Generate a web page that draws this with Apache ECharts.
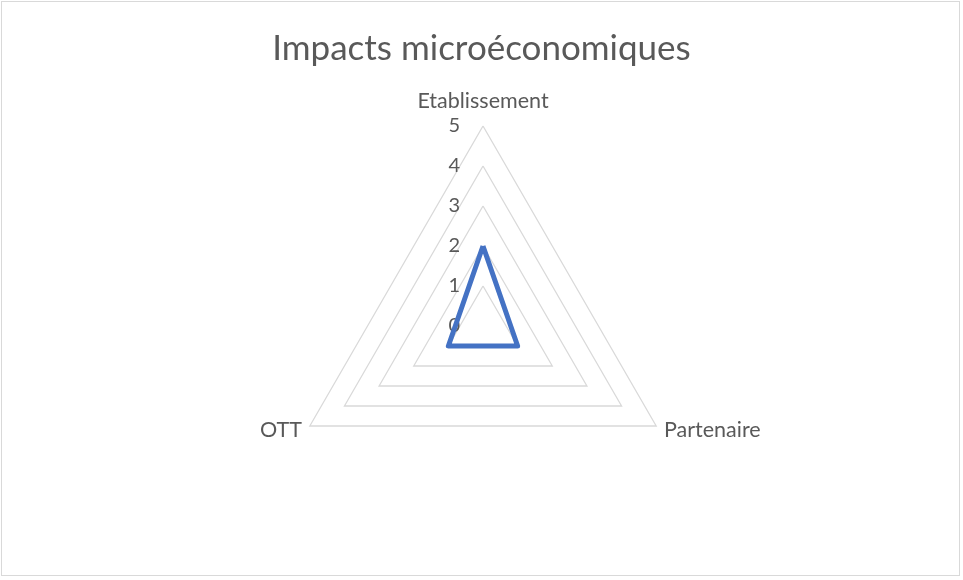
<!DOCTYPE html>
<html><head><meta charset="utf-8">
<script src="https://cdn.jsdelivr.net/npm/echarts@6/dist/echarts.min.js"></script>
<style>
html,body{margin:0;padding:0;background:#fff;}
#c{position:absolute;left:0;top:0;width:963px;height:580px;}
#b{position:absolute;left:1px;top:1px;width:959px;height:575px;border:1px solid #d9d9d9;box-sizing:border-box;pointer-events:none;}
</style></head>
<body><div id="c"></div><div id="b"></div>
<script>
const titleText = "Impacts microéconomiques";
const categories = ["Etablissement", "Partenaire", "OTT"];
const values = [2, 1, 1];
const axisMax = 5;
const tickInterval = 1;

// ECharts radar runs counter-clockwise; reorder so the categories run clockwise
const order = [0, 2, 1];

const chart = echarts.init(document.getElementById('c'));
const font = 'Lato, "Open Sans", sans-serif';
chart.setOption({
  animation: false,
  title: {text: titleText, left: 'center', top: 26,
    textStyle: {fontFamily: font, fontSize: 35, fontWeight: 'normal', color: '#595959'}},
  radar: {
    center: [483, 326], radius: 200, startAngle: 90, shape: 'polygon',
    splitNumber: axisMax / tickInterval,
    indicator: order.map(i => ({name: categories[i], min: 0, max: axisMax})),
    axisName: {color: '#595959', fontFamily: font, fontSize: 21.5,
      formatter: n => n === categories[0] ? '{t|' + n + '}' : n,
      rich: {t: {color: '#595959', fontFamily: font, fontSize: 21.5, padding: [0, 0, 5, 0]}}},
    nameGap: 9,
    axisLine: {show: false},
    splitLine: {lineStyle: {color: '#d9d9d9', width: 1.3}},
    splitArea: {show: false},
    axisTick: {show: false},
    axisLabel: {show: false}
  },
  grid: {left: 483, top: 126, height: 200, width: 1},
  xAxis: {type: 'value', show: false},
  yAxis: {type: 'value', min: 0, max: axisMax, interval: tickInterval,
    axisLine: {show: false}, axisTick: {show: false}, splitLine: {show: false},
    axisLabel: {color: '#595959', fontFamily: font, fontSize: 20, margin: 23}},
  series: [{type: 'radar', symbol: 'none',
    lineStyle: {color: '#4472C4', width: 5, join: 'round'},
    data: [{value: order.map(i => values[i])}]}]
});
</script></body></html>
